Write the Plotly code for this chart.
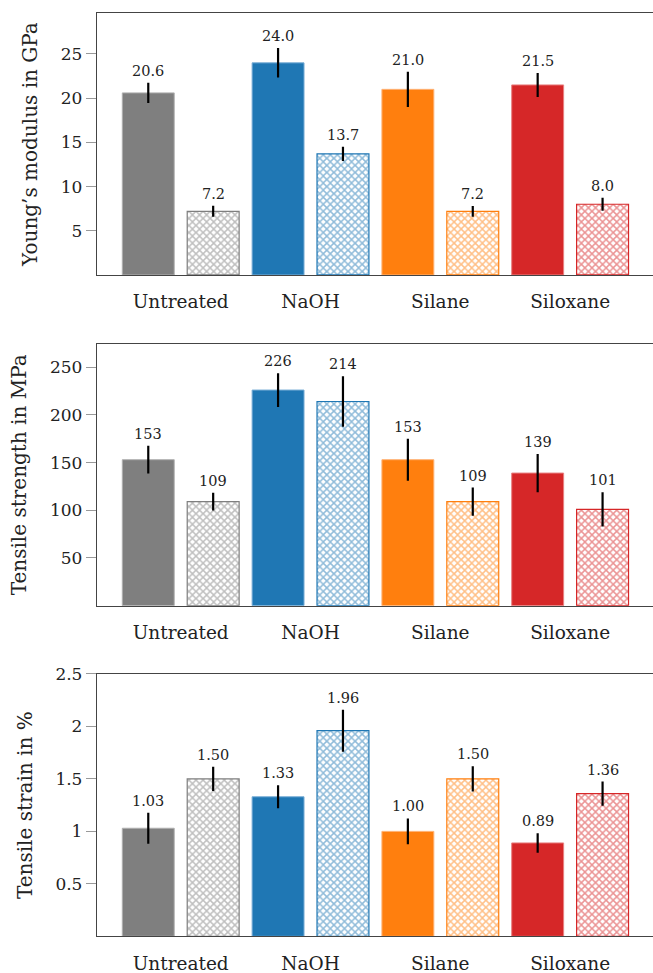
import plotly.graph_objects as go

categories = ["Untreated", "NaOH", "Silane", "Siloxane"]
colors = ["#7f7f7f", "#1f77b4", "#ff7f0e", "#d62728"]
edge_light = ["#b0b0b0", "#79aed6", "#ffb274", "#e88080"]

modulus_solid = [20.6, 24.0, 21.0, 21.5]
modulus_solid_err = [1.15, 1.67, 2.0, 1.36]
modulus_hatched = [7.2, 13.7, 7.2, 8.0]
modulus_hatched_err = [0.62, 0.8, 0.6, 0.74]

strength_solid = [153, 226, 153, 139]
strength_solid_err = [14.5, 17.7, 22.0, 20.0]
strength_hatched = [109, 214, 109, 101]
strength_hatched_err = [9.3, 26.4, 14.8, 18.0]

strain_solid = [1.03, 1.33, 1.00, 0.89]
strain_solid_err = [0.147, 0.11, 0.123, 0.093]
strain_hatched = [1.50, 1.96, 1.50, 1.36]
strain_hatched_err = [0.115, 0.2, 0.12, 0.115]

modulus_ticks = [5, 10, 15, 20, 25]
strength_ticks = [50, 100, 150, 200, 250]
strain_ticks = [0.5, 1, 1.5, 2, 2.5]

panels = [
    dict(solid=modulus_solid, solid_err=modulus_solid_err, hatched=modulus_hatched,
         hatched_err=modulus_hatched_err, fmt="{:.1f}", title="Young’s modulus in GPa",
         yrange=[0, 29.6], ticks=modulus_ticks, domain=[0.7174, 0.9863]),
    dict(solid=strength_solid, solid_err=strength_solid_err, hatched=strength_hatched,
         hatched_err=strength_hatched_err, fmt="{:.0f}", title="Tensile strength in MPa",
         yrange=[0, 274.3], ticks=strength_ticks, domain=[0.3775, 0.6465]),
    dict(solid=strain_solid, solid_err=strain_solid_err, hatched=strain_hatched,
         hatched_err=strain_hatched_err, fmt="{:.2f}", title="Tensile strain in %",
         yrange=[0, 2.5], ticks=strain_ticks, domain=[0.0377, 0.3073]),
]

FONT = "DejaVu Serif"
fig = go.Figure()
annotations = []
xs_solid = [2 * i for i in range(len(categories))]
xs_hatch = [2 * i + 1 for i in range(len(categories))]
xdom = [97 / 653, 1.0]

for k, p in enumerate(panels):
    sfx = "" if k == 0 else str(k + 1)
    xa, ya = "x" + sfx, "y" + sfx
    fig.add_trace(go.Bar(
        x=xs_solid, y=p["solid"], width=0.8, xaxis=xa, yaxis=ya,
        marker=dict(color=colors, line=dict(color=edge_light, width=1)),
        error_y=dict(type="data", array=p["solid_err"], color="black", thickness=2.2, width=0),
        showlegend=False))
    fig.add_trace(go.Bar(
        x=xs_hatch, y=p["hatched"], width=0.8, xaxis=xa, yaxis=ya,
        marker=dict(color="white", line=dict(color=colors, width=1.2),
                    pattern=dict(shape="x", fgcolor=colors, bgcolor="white",
                                 size=5, solidity=0.5, fillmode="overlay")),
        error_y=dict(type="data", array=p["hatched_err"], color="black", thickness=2.2, width=0),
        showlegend=False))
    for xs, vals, errs in [(xs_solid, p["solid"], p["solid_err"]),
                           (xs_hatch, p["hatched"], p["hatched_err"])]:
        for x, v, e in zip(xs, vals, errs):
            annotations.append(dict(x=x, y=v + e, xref=xa, yref=ya, text=p["fmt"].format(v),
                                    showarrow=False, yanchor="middle", yshift=12,
                                    font=dict(family=FONT, size=14.5, color="#222")))
    axis_x = dict(domain=xdom, range=[-0.79, 7.777], anchor=ya,
                  tickvals=[2 * i + 0.5 for i in range(len(categories))], ticktext=categories,
                  ticks="outside", ticklen=10, tickcolor="rgba(0,0,0,0)",
                  showline=True, linecolor="#444", linewidth=1.3, mirror=True,
                  showgrid=False, zeroline=False,
                  tickfont=dict(family=FONT, size=18.5, color="#222"))
    axis_y = dict(domain=p["domain"], range=p["yrange"], anchor=xa,
                  tickvals=p["ticks"], ticks="outside", ticklen=10, tickcolor="#999",
                  tickwidth=1, showline=True, linecolor="#444", linewidth=1.3, mirror=False,
                  showgrid=False, zeroline=False,
                  tickfont=dict(family=FONT, size=17, color="#222"),
                  title=dict(text=p["title"], font=dict(family=FONT, size=20, color="#222"),
                             standoff=17))
    fig.layout["xaxis" + sfx] = axis_x
    fig.layout["yaxis" + sfx] = axis_y

fig.update_layout(
    width=653, height=973, margin=dict(l=0, r=0, t=0, b=0),
    plot_bgcolor="white", paper_bgcolor="white", barmode="overlay",
    annotations=annotations, font=dict(family=FONT),
)
for ax in ["yaxis", "yaxis2", "yaxis3", "xaxis", "xaxis2", "xaxis3"]:
    fig.layout[ax].automargin = False

fig.write_html("out.html")
